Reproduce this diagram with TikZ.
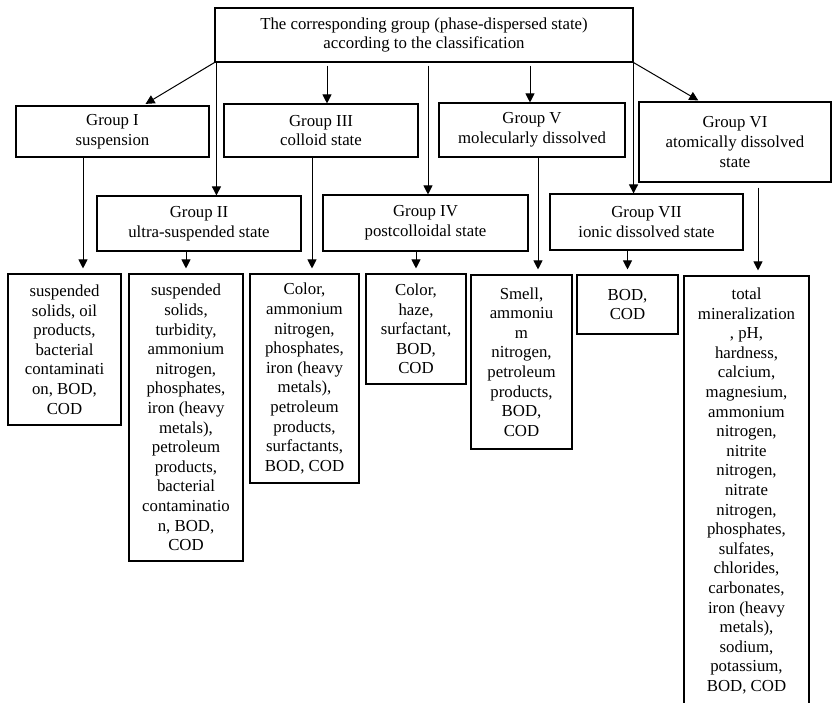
\documentclass[tikz,border=0pt]{standalone}
\usepackage{fontspec}
\setmainfont{Liberation Serif}
\usetikzlibrary{arrows.meta}

\begin{document}
\begin{tikzpicture}[x=1pt, y=1pt,
  box/.style={draw, line width=1.1pt, align=center, inner sep=2pt,
    font=\fontsize{16.8}{19.6}\selectfont},
  arr/.style={-{Triangle[length=9pt, width=9pt]}, line width=1pt}]
  \useasboundingbox (0,0) rectangle (832,-702);
  \clip (0,0) rectangle (832,-702);
  % nodes %
  \node[box, minimum width=418, minimum height=54] (top) at (424,-35)
    {The corresponding group (phase-dispersed state)\\according to the classification};
  \node[box, minimum width=193, minimum height=51] (g1) at (112.5,-131.5) {Group I\\suspension};
  \node[box, minimum width=194, minimum height=53] (g3) at (321,-130.5) {Group III\\colloid state};
  \node[box, minimum width=186, minimum height=54] (g5) at (532,-130) {Group V\\molecularly dissolved};
  \node[box, minimum width=192, minimum height=80] (g6) at (735,-142) {Group VI\\atomically dissolved\\state};
  \node[box, minimum width=204, minimum height=55] (g2) at (199,-223.5) {Group II\\ultra-suspended state};
  \node[box, minimum width=205, minimum height=56] (g4) at (425.5,-223) {Group IV\\postcolloidal state};
  \node[box, minimum width=193, minimum height=56] (g7) at (646.5,-222) {Group VII\\ionic dissolved state};
  \node[box, minimum width=113, minimum height=151] (b1) at (64.5,-349.5)
    {suspended\\solids, oil\\products,\\bacterial\\contaminati\\on, BOD,\\COD};
  \node[box, minimum width=114, minimum height=287] (b2) at (186,-417.5)
    {suspended\\solids,\\turbidity,\\ammonium\\nitrogen,\\phosphates,\\iron (heavy\\metals),\\petroleum\\products,\\bacterial\\contaminatio\\n, BOD,\\COD};
  \node[box, minimum width=109, minimum height=209] (b3) at (304.5,-378.5)
    {Color,\\ammonium\\nitrogen,\\phosphates,\\iron (heavy\\metals),\\petroleum\\products,\\surfactants,\\BOD, COD};
  \node[box, minimum width=100, minimum height=110] (b4) at (416,-329)
    {Color,\\haze,\\surfactant,\\BOD,\\COD};
  \node[box, minimum width=101, minimum height=174] (b5) at (521.5,-362)
    {Smell,\\ammoniu\\m\\nitrogen,\\petroleum\\products,\\BOD,\\COD};
  \node[box, minimum width=101, minimum height=59] (b6) at (627.5,-304.5) {BOD,\\COD};
  \node[box, minimum width=125, minimum height=430] (b7) at (746.5,-491)
    {total\\mineralization\\, pH,\\hardness,\\calcium,\\magnesium,\\ammonium\\nitrogen,\\nitrite\\nitrogen,\\nitrate\\nitrogen,\\phosphates,\\sulfates,\\chlorides,\\carbonates,\\iron (heavy\\metals),\\sodium,\\potassium,\\BOD, COD};
  % edges %
  \draw[arr, shorten >=3pt] (top.south west) -- ([xshift=30.5pt]g1.north);
  \draw[arr] ([xshift=2pt]top.south west) -- ([xshift=2pt]top.south west |- g2.north);
  \draw[arr, shorten <=3pt] ([xshift=-97pt]top.south) -- ([xshift=-97pt]top.south |- g3.north);
  \draw[arr, shorten <=3pt] ([xshift=4pt]top.south) -- ([xshift=4pt]top.south |- g4.north);
  \draw[arr, shorten <=3pt] ([xshift=106pt]top.south) -- ([xshift=106pt]top.south |- g5.north);
  \draw[arr] (top.south east) -- (top.south east |- g7.north);
  \draw[arr, shorten >=2pt] (top.south east) -- ([xshift=-35pt]g6.north);
  \draw[arr, shorten >=5pt] ([xshift=-29.5pt]g1.south) -- ([xshift=-29.5pt]g1.south |- b1.north);
  \draw[arr, shorten >=5pt] (b2.north |- g2.south) -- (b2.north);
  \draw[arr, shorten >=5pt] ([xshift=-9pt]g3.south) -- ([xshift=-9pt]g3.south |- b3.north);
  \draw[arr, shorten >=5pt] (b4.north |- g4.south) -- (b4.north);
  \draw[arr, shorten >=5pt] ([xshift=6pt]g5.south) -- ([xshift=6pt]g5.south |- b5.north);
  \draw[arr, shorten >=5pt] (b6.north |- g7.south) -- (b6.north);
  \draw[arr, shorten <=5pt, shorten >=5pt] ([xshift=23pt]g6.south) -- ([xshift=23pt]g6.south |- b7.north);
\end{tikzpicture}
\end{document}
